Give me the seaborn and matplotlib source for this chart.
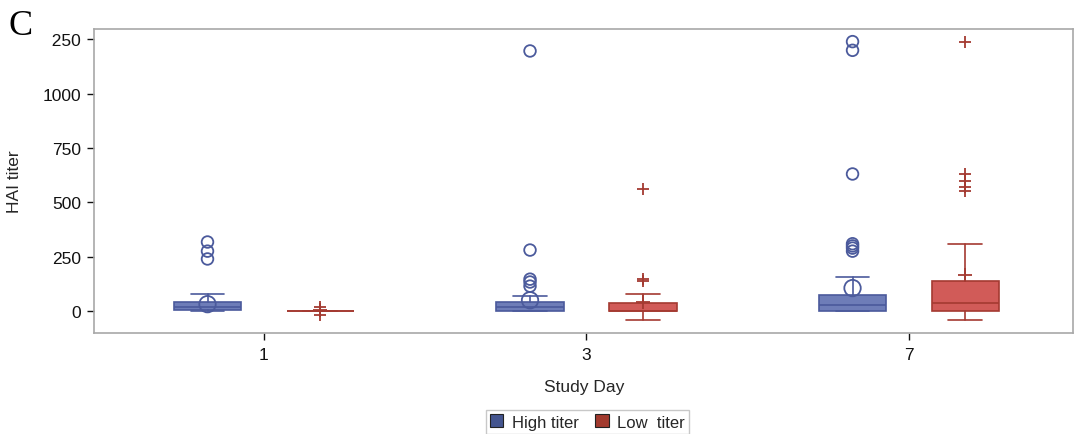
import matplotlib
matplotlib.use("Agg")
import matplotlib.pyplot as plt
from matplotlib.patches import Patch, Rectangle
import seaborn as sns
import pandas as pd

# ---- data ----
days = ["1", "3", "7"]
groups = ["High titer", "Low  titer"]

high_q1 = [5, 0, 2]
high_med = [18, 18, 28]
high_q3 = [40, 40, 75]
high_wlo = [0, 0, 0]
high_whi = [78, 70, 157]
high_mean = [32, 50, 106]
high_out = [[240, 276, 318], [115, 134, 147, 281, 1197], [276, 290, 300, 310, 631, 1200, 1240]]

low_q1 = [0, 0, 0]
low_med = [0, 0, 38]
low_q3 = [0, 37, 140]
low_wlo = [0, -41, -41]
low_whi = [0, 78, 308]
low_mean = [5, 40, 166]
low_out = [[-18, 0, 18], [140, 150, 560], [555, 570, 600, 630, 1238]]

yticks = [0, 250, 500, 750, 1000, 1250]

# ---- style ----
blue_fill, blue_edge = "#6E7DB8", "#4B5A9C"
red_fill, red_edge = "#D15B58", "#A43A31"
leg_blue, leg_red = "#44558F", "#A23A2E"

sns.set_theme(style="white")
plt.rcParams["font.family"] = ["Liberation Sans", "DejaVu Sans"]

fig = plt.figure(figsize=(10.74, 4.35), dpi=100)
ax = fig.add_axes([0.0875, 0.232, 0.912, 0.699])

offset, width = 0.175, 0.21

def stats(q1, med, q3, wlo, whi, mean):
    return [dict(q1=a, med=b, q3=c, whislo=d, whishi=e, mean=f, fliers=[])
            for a, b, c, d, e, f in zip(q1, med, q3, wlo, whi, mean)]

for st, sgn, fill, edge in [
    (stats(high_q1, high_med, high_q3, high_wlo, high_whi, high_mean), -1, blue_fill, blue_edge),
    (stats(low_q1, low_med, low_q3, low_wlo, low_whi, low_mean), 1, red_fill, red_edge),
]:
    pos = [i + sgn * offset for i in range(len(days))]
    ax.bxp(st, positions=pos, widths=width, patch_artist=True, showfliers=False,
           showmeans=False, capwidths=width / 2,
           boxprops=dict(facecolor=fill, edgecolor=edge, linewidth=1.2, alpha=1),
           medianprops=dict(color=edge, linewidth=1.2),
           whiskerprops=dict(color=edge, linewidth=1.2),
           capprops=dict(color=edge, linewidth=1.2))

# outliers and means via seaborn
rows = []
for i, vals in enumerate(high_out):
    rows += [dict(x=i - offset, y=v, g="high") for v in vals]
out_h = pd.DataFrame(rows)
rows = []
for i, vals in enumerate(low_out):
    rows += [dict(x=i + offset, y=v, g="low") for v in vals]
out_l = pd.DataFrame(rows)
mean_h = pd.DataFrame(dict(x=[i - offset for i in range(3)], y=high_mean))
mean_l = pd.DataFrame(dict(x=[i + offset for i in range(3)], y=low_mean))

sns.scatterplot(data=out_h, x="x", y="y", ax=ax, marker="o", s=70,
                facecolor="none", edgecolor=blue_edge, linewidth=1.3, zorder=5, legend=False)
sns.scatterplot(data=mean_h, x="x", y="y", ax=ax, marker="o", s=140,
                facecolor="none", edgecolor=blue_edge, linewidth=1.3, zorder=5, legend=False)
sns.scatterplot(data=out_l, x="x", y="y", ax=ax, marker="+", s=70,
                color=red_edge, linewidth=1.3, zorder=5, legend=False)
sns.scatterplot(data=mean_l, x="x", y="y", ax=ax, marker="+", s=110,
                color=red_edge, linewidth=1.3, zorder=5, legend=False)

ax.set_xlim(-0.527, 2.51)
ax.set_ylim(-101, 1298)
ax.set_xticks(range(len(days)))
ax.set_xticklabels(days)
ax.set_yticks(yticks)
ax.set_yticklabels([str(t) for t in yticks])
ax.tick_params(axis="both", labelsize=12.5, colors="#111111", length=5, width=1,
               direction="out", left=True, bottom=True)
for t in ax.get_xticklines() + ax.get_yticklines():
    t.set_color("#888888")
ax.tick_params(axis="y", pad=4)
ax.tick_params(axis="x", pad=5)
for sp in ax.spines.values():
    sp.set_color("#A8A8A8")
    sp.set_linewidth(1.2)

ax.set_xlabel("Study Day", fontsize=12.5, labelpad=12)
ax.set_ylabel("HAI titer", fontsize=12.5, labelpad=15)

handles = [Patch(facecolor=leg_blue, edgecolor="#222222", linewidth=0.8, label=groups[0]),
           Patch(facecolor=leg_red, edgecolor="#222222", linewidth=0.8, label=groups[1])]
leg = fig.legend(handles=handles, loc="lower center", bbox_to_anchor=(0.547, -0.007),
                 ncol=2, fontsize=12, frameon=True, fancybox=False,
                 handlelength=0.8, handleheight=0.8, handletextpad=0.5,
                 columnspacing=1.0, borderpad=0.25, borderaxespad=0.2)
leg.get_frame().set_edgecolor("#BBBBBB")
leg.get_frame().set_linewidth(1)

# white panel behind the panel letter (as in the reference, it hides part of the top label)
fig.add_artist(Rectangle((0, 1 - 47 / 435), 52 / 1074, 47 / 435, transform=fig.transFigure,
                         facecolor="white", edgecolor="none", zorder=10))
fig.text(0.008, 0.977, "C", fontsize=26, family=["Liberation Serif", "DejaVu Serif"],
         va="top", ha="left", color="black", zorder=11)

fig.savefig("out.png", dpi=100)
